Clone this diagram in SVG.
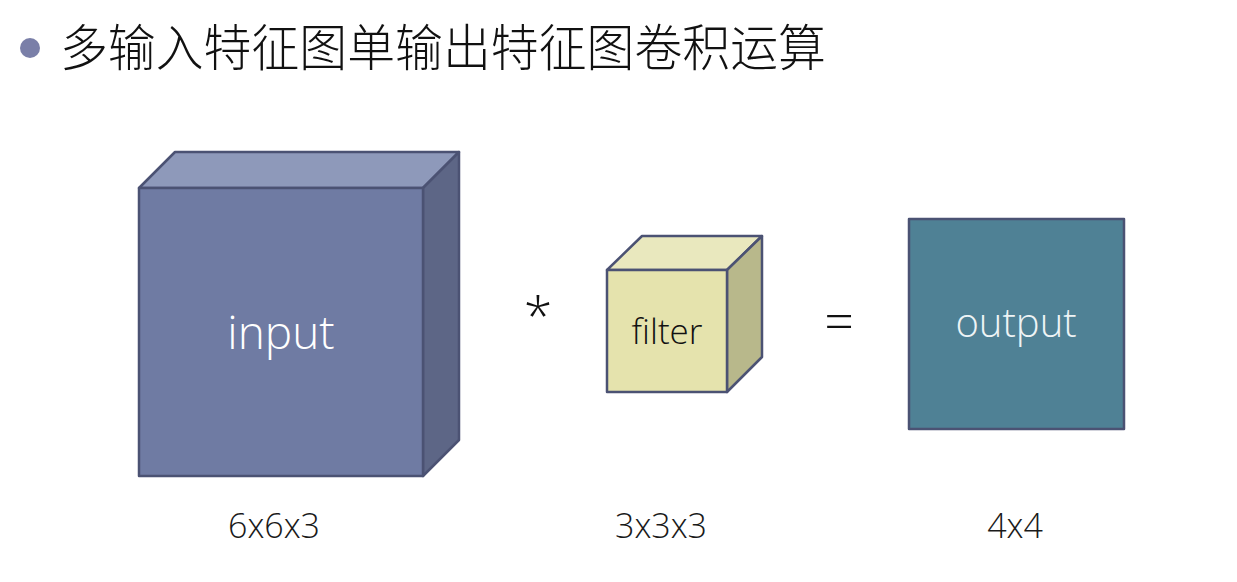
<svg xmlns="http://www.w3.org/2000/svg" width="1237" height="582" viewBox="0 0 1237 582">
<style>
.cube{stroke:#4b5273;stroke-width:2.5;stroke-linejoin:round}
.lbl{font-family:"Open Sans","Noto Sans",sans-serif;font-weight:300;text-anchor:middle}
.dim{font-family:"Open Sans","Noto Sans",sans-serif;font-weight:300;font-size:34px;fill:#1a1a1a;text-anchor:middle}
.op{font-family:"Open Sans","Noto Sans",sans-serif;font-weight:300;fill:#111;text-anchor:middle}
</style>
<rect width="1237" height="582" fill="#ffffff"/>
<g id="title">
<circle cx="30" cy="48" r="10" fill="#7a7fa8"/>
<text x="60" y="66" font-family="Noto Sans CJK SC, sans-serif" font-weight="300" font-size="50" fill="#111" textLength="766" lengthAdjust="spacingAndGlyphs">多输入特征图单输出特征图卷积运算</text>
</g>
<g id="input">
<polygon class="cube" points="139,188 175,152 459,152 423,188" fill="#8e99ba"/>
<polygon class="cube" points="423,188 459,152 459,440 423,476" fill="#5d6686"/>
<rect class="cube" x="139" y="188" width="284" height="288" fill="#6f7ba3"/>
<text class="lbl" x="281" y="349" font-size="46" fill="#ffffff">input</text>
</g>
<g id="filter">
<polygon class="cube" points="607,270 642,236 762,236 727,270" fill="#e9e8be"/>
<polygon class="cube" points="727,270 762,236 762,357 727,392" fill="#b8b88b"/>
<rect class="cube" x="607" y="270" width="120" height="122" fill="#e5e3ad"/>
<text class="lbl" x="667" y="344" font-size="35" fill="#111">filter</text>
</g>
<g id="output">
<rect class="cube" x="909" y="219" width="215" height="210" fill="#4f8195"/>
<text class="lbl" x="1016" y="337" font-size="40" fill="#eef4f6">output</text>
</g>
<g id="connectors">
<text class="op" x="538" y="334" font-size="52">*</text>
<text class="op" x="839" y="340" font-size="52">=</text>
</g>
<g id="dims">
<text class="dim" x="274" y="538">6x6x3</text>
<text class="dim" x="661" y="538">3x3x3</text>
<text class="dim" x="1015" y="538">4x4</text>
</g>
</svg>
